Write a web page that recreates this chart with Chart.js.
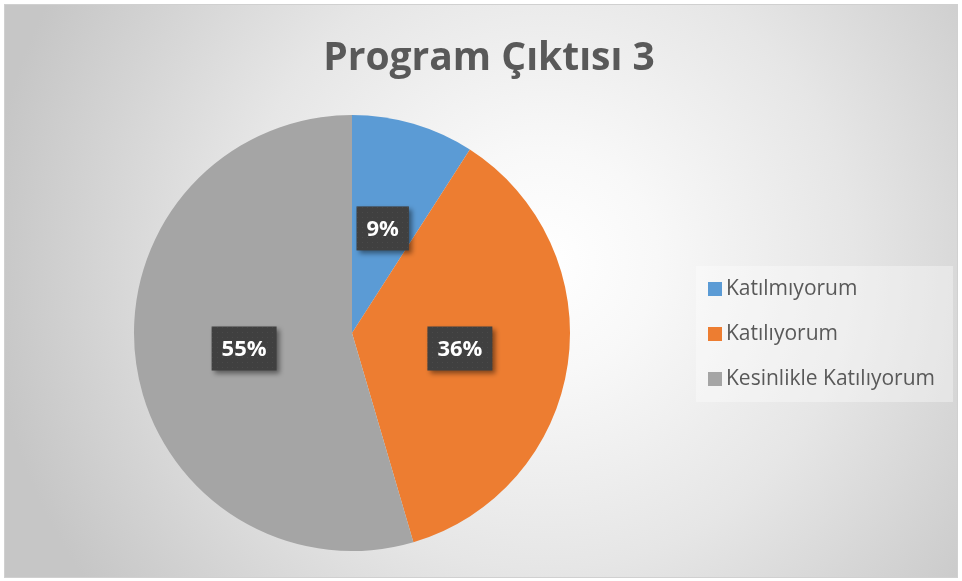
<!DOCTYPE html>
<html lang="tr">
<head>
    <meta charset="UTF-8">
    <title>Program Çıktısı 3</title>
    <style>
        body { margin: 0; background: #fff; }
    </style>
</head>
<body>
    <canvas id="myChart" width="962" height="581"></canvas>

    <script src="https://cdn.jsdelivr.net/npm/chart.js"></script>
    <script>
        // veriler
        const v_title = 'Program Çıktısı 3';
        const v_labels = ['Katılmıyorum', 'Katılıyorum', 'Kesinlikle Katılıyorum'];
        const v_counts = [2, 8, 12];
        const v_colors = ['#5b9bd5', '#ed7d31', '#a5a5a5'];

        const v_total = v_counts.reduce((a, b) => a + b, 0);

        // arka plan (radyal gradyan çerçeve)
        const bgPlugin = {
            id: 'bgPlugin',
            beforeDraw(chart) {
                const c = chart.ctx;
                c.save();
                c.fillStyle = '#ffffff';
                c.fillRect(0, 0, chart.width, chart.height);
                const g = c.createRadialGradient(545, 260, 0, 545, 260, 560);
                g.addColorStop(0, '#ffffff');
                g.addColorStop(0.2, '#f8f8f8');
                g.addColorStop(0.55, '#e6e6e6');
                g.addColorStop(1, '#c6c6c6');
                c.fillStyle = g;
                c.fillRect(4, 4, 954, 574);
                c.strokeStyle = '#d0d0d0';
                c.lineWidth = 1;
                c.strokeRect(4.5, 4.5, 953, 573);
                c.restore();
            }
        };

        // nokta desenli koyu kutu
        function f_pattern(ctx) {
            const p = document.createElement('canvas');
            p.width = 5; p.height = 5;
            const pc = p.getContext('2d');
            pc.fillStyle = '#404040';
            pc.fillRect(0, 0, 5, 5);
            pc.fillStyle = '#4a4a4a';
            pc.fillRect(2, 2, 1, 1);
            return ctx.createPattern(p, 'repeat');
        }

        // yüzde etiketleri
        const labelPlugin = {
            id: 'labelPlugin',
            afterDatasetsDraw(chart) {
                const c = chart.ctx;
                const meta = chart.getDatasetMeta(0);
                const pat = f_pattern(c);
                c.save();
                c.font = 'bold 22px "Open Sans"';
                c.textAlign = 'center';
                c.textBaseline = 'middle';
                meta.data.forEach((arc, i) => {
                    const pos = arc.tooltipPosition();
                    const txt = Math.round(v_counts[i] / v_total * 100) + '%';
                    const w = c.measureText(txt).width + 20;
                    const h = 44;
                    c.save();
                    c.shadowColor = 'rgba(0,0,0,0.45)';
                    c.shadowBlur = 5;
                    c.shadowOffsetX = 3;
                    c.shadowOffsetY = 3;
                    c.fillStyle = pat;
                    c.fillRect(pos.x - w / 2, pos.y - h / 2, w, h);
                    c.restore();
                    c.fillStyle = '#ffffff';
                    c.fillText(txt, pos.x, pos.y + 1);
                });
                c.restore();
            }
        };

        // başlık ve lejant
        const textPlugin = {
            id: 'textPlugin',
            afterDraw(chart) {
                const c = chart.ctx;
                c.save();
                c.fillStyle = '#595959';
                c.font = 'bold 39px "Open Sans"';
                c.textAlign = 'center';
                c.textBaseline = 'alphabetic';
                c.fillText(v_title, 489, 70);

                // lejant kutusu
                c.fillStyle = 'rgba(255,255,255,0.35)';
                c.fillRect(696, 266, 257, 136);
                c.font = '21px "Open Sans"';
                c.textAlign = 'left';
                c.textBaseline = 'middle';
                for (let i = 0; i < v_labels.length; i++) {
                    const y = 289 + i * 45;
                    c.fillStyle = v_colors[i];
                    c.fillRect(708, y - 7, 14, 14);
                    c.fillStyle = '#595959';
                    c.fillText(v_labels[i], 726, y);
                }
                c.restore();
            }
        };

        const ctx = document.querySelector('#myChart');
        new Chart(ctx, {
            type: 'pie',
            data: {
                labels: v_labels,
                datasets: [{
                    data: v_counts,
                    backgroundColor: v_colors,
                    borderWidth: 0
                }]
            },
            options: {
                responsive: false,
                animation: false,
                events: [],
                layout: {
                    padding: { left: 134, right: 392, top: 115, bottom: 30 }
                },
                plugins: {
                    legend: { display: false },
                    title: { display: false },
                    tooltip: { enabled: false }
                }
            },
            plugins: [bgPlugin, labelPlugin, textPlugin]
        });
    </script>
</body>
</html>
